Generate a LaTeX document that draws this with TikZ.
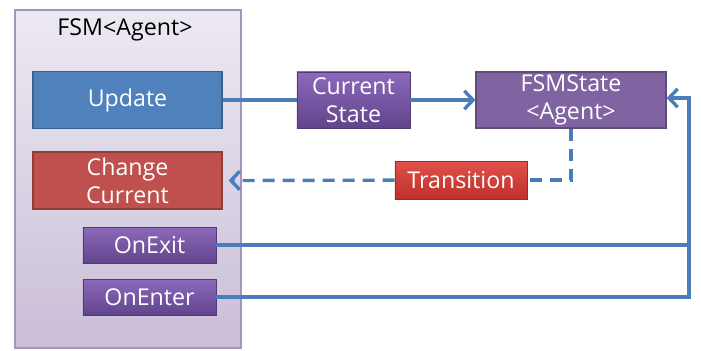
\documentclass[tikz,border=0pt]{standalone}
\usepackage{fontspec}
\setmainfont{Open Sans}
\usetikzlibrary{arrows.meta,shadows}

\definecolor{linkblue}{HTML}{4A7EBB}
\definecolor{boxblue}{HTML}{4F81BD}
\definecolor{boxred}{HTML}{C0504D}
\definecolor{boxpurple}{HTML}{8064A2}
\definecolor{purpletop}{HTML}{8B69BB}
\definecolor{purplebot}{HTML}{62448C}
\definecolor{redtop}{HTML}{E2514B}
\definecolor{redbot}{HTML}{BE302B}

\begin{document}
\begin{tikzpicture}[x=0.025cm, y=-0.025cm, >={Straight Barb[length=2.2mm,width=4.6mm]},
    every node/.style={font=\fontsize{16.5}{20}\selectfont, align=center, text=white, inner sep=0pt},
    flatbox/.style={draw=#1!75!black, line width=0.8pt, fill=#1},
    shadedbox/.style 2 args={draw=#2!85!black, line width=0.6pt, top color=#1, bottom color=#2,
        drop shadow={opacity=0.35, shadow xshift=0.5pt, shadow yshift=-0.8pt}},
    conn/.style={draw=linkblue, line width=2.4pt}]

    % frame of the state machine
    \useasboundingbox (0,0) rectangle (701,350);
    \node (fsm) [draw=boxpurple!70, line width=0.8pt, top color=boxpurple!14, bottom color=boxpurple!42,
        minimum width=5.65cm, minimum height=8.45cm] at (128,179) {};
    \node (title) [text=black] at (125,30) {FSM<Agent>};

    % methods of FSM
    \node (update) [flatbox=boxblue, minimum width=4.725cm, minimum height=1.425cm] at (127.5,100) {Update};
    \node (change) [flatbox=boxred, minimum width=4.725cm, minimum height=1.425cm] at (127.5,180.5) {Change\\Current};
    \node (onexit) [shadedbox={purpletop}{purplebot}, minimum width=3.325cm, minimum height=0.9cm] at (149.5,245) {OnExit};
    \node (onenter) [shadedbox={purpletop}{purplebot}, minimum width=3.325cm, minimum height=0.9cm] at (149.5,297) {OnEnter};

    % state side
    \node (curstate) [shadedbox={purpletop}{purplebot}, minimum width=2.825cm, minimum height=1.4cm] at (353.5,100) {Current\\State};
    \node (fsmstate) [flatbox=boxpurple, minimum width=4.75cm, minimum height=1.4cm] at (571,100) {FSMState\\<Agent>};
    \node (transition) [shadedbox={redtop}{redbot}, minimum width=3.3cm, minimum height=0.95cm] at (461,180) {Transition};

    \coordinate (bus) at (689,98);

    % links
    \draw[conn] (update) -- (curstate);
    \draw[conn,->] (curstate) -- (fsmstate);
    \draw[conn,dash pattern=on 0.3cm off 0.2cm] (fsmstate.south) |- (transition);
    \draw[conn,dash pattern=on 0.3cm off 0.2cm,->] (transition) -- ([xshift=0.15cm]change.east);
    \draw[conn,->] (onexit) -| (bus) -- (fsmstate.east |- bus);
    \draw[conn] (onenter) -| (bus);

\end{tikzpicture}
\end{document}
